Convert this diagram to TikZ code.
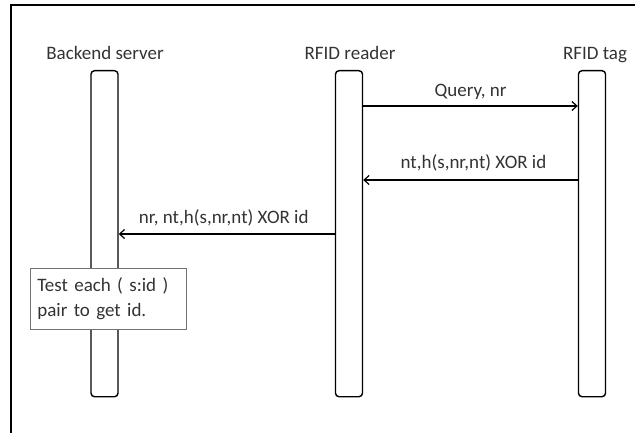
\documentclass[tikz,border=0pt]{standalone}
\usepackage{fontspec}
\setmainfont{Carlito}
\usetikzlibrary{arrows.meta}

\begin{document}
\begin{tikzpicture}[x=1pt, y=-1pt, font=\fontsize{19}{25}\selectfont, text=black!80,
  life line/.style={draw, line width=1.4pt, rounded corners=3.5pt, minimum width=27pt, minimum height=326pt, anchor=north},
  head node/.style={anchor=base},
  msg/.style={line width=1.2pt, -{Straight Barb[length=5pt,width=9pt,line width=1.2pt]}},
  note node/.style={draw=black!55, fill=white, line width=0.8pt, align=left, anchor=north west, inner xsep=7pt, inner ysep=5pt, minimum width=156pt, minimum height=61pt, text width=142pt}]
\useasboundingbox (0,0) rectangle (635,433);
% frame
\draw[line width=2pt] (11,433) -- (11,5) -- (635,5);
\node[life line] (serverbar) at (104.5,70) {};
\node[life line] (readerbar) at (349,70) {};
\node[life line] (tagbar)    at (592,70) {};
\node[head node] (server) at (105,60) {Backend server};
\node[head node] (reader) at (350,60) {RFID reader};
\node[head node] (tag)    at (595,60) {RFID tag};
\draw[msg] (readerbar.east |- 0,106) -- node[midway, anchor=base, yshift=9pt] {Query, nr} (tagbar.west |- 0,106);
\draw[msg] (tagbar.west |- 0,180) -- node[midway, anchor=base, yshift=12pt, xshift=3pt] {nt,h(s,nr,nt) XOR id} (readerbar.east |- 0,180);
\draw[msg] (readerbar.west |- 0,234) -- node[midway, anchor=base, yshift=11pt, xshift=-3pt] {nr, nt,h(s,nr,nt) XOR id} (serverbar.east |- 0,234);
\node[note node] (note) at (30,268) {Test each ( s:id )\\ pair to get id.};
\end{tikzpicture}
\end{document}
